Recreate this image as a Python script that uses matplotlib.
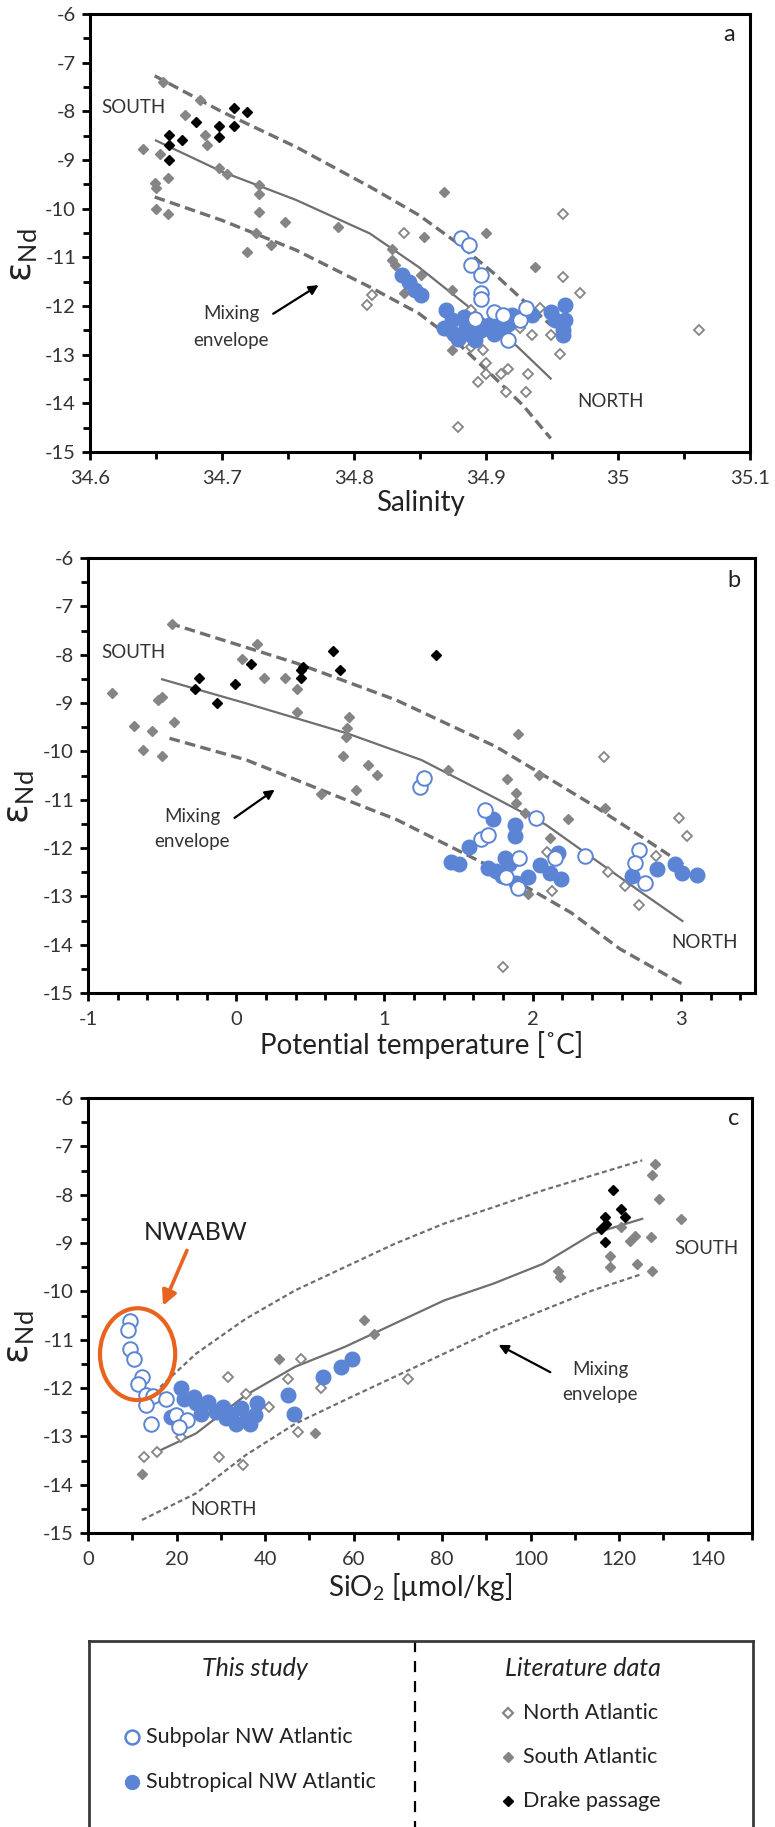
import matplotlib
matplotlib.use("Agg")
import matplotlib.pyplot as plt
import matplotlib.ticker as mtick
from matplotlib.patches import Ellipse

plt.rcParams['font.family'] = ['Lato', 'DejaVu Sans']
plt.rcParams['axes.unicode_minus'] = False
plt.rcParams['mathtext.fontset'] = 'dejavusans'

BLUE = '#5b84d4'
GREY = '#858585'
LINE = '#6f6f6f'
ORANGE = '#e8641e'

# ---------------- panel a: salinity ----------------
a_sub_x = [34.881, 34.887, 34.889, 34.896, 34.896, 34.896, 34.892, 34.906, 34.913, 34.917, 34.926, 34.930]
a_sub_y = [-10.61, -10.75, -11.16, -11.37, -11.74, -11.85, -12.26, -12.12, -12.19, -12.70, -12.29, -12.05]
a_trop_x = [34.836, 34.842, 34.846, 34.851, 34.870, 34.868, 34.874, 34.876, 34.879, 34.883, 34.885, 34.889,
            34.892, 34.896, 34.902, 34.906, 34.909, 34.913, 34.917, 34.920, 34.935, 34.949, 34.952, 34.958,
            34.958, 34.960, 34.960]
a_trop_y = [-11.37, -11.50, -11.67, -11.78, -12.09, -12.46, -12.29, -12.57, -12.67, -12.22, -12.43, -12.60,
            -12.70, -12.50, -12.39, -12.57, -12.29, -12.50, -12.36, -12.19, -12.19, -12.12, -12.29, -12.50,
            -12.60, -11.98, -12.29]
a_north_x = [34.838, 34.810, 34.814, 34.889, 34.889, 34.898, 34.894, 34.900, 34.900, 34.911, 34.917, 34.915,
             34.926, 34.935, 34.932, 34.930, 34.941, 34.949, 34.958, 34.958, 34.971, 34.956, 34.879, 35.061]
a_north_y = [-10.51, -11.98, -11.78, -12.09, -12.84, -12.91, -13.56, -13.18, -13.39, -13.39, -13.29, -13.77,
             -12.46, -12.60, -13.39, -13.77, -12.05, -12.60, -10.10, -11.40, -11.74, -12.98, -14.48, -12.50]
a_south_x = [34.640, 34.649, 34.650, 34.650, 34.655, 34.659, 34.659, 34.653, 34.672, 34.683, 34.687, 34.689,
             34.698, 34.704, 34.728, 34.728, 34.728, 34.726, 34.737, 34.719, 34.748, 34.788, 34.829, 34.829,
             34.831, 34.838, 34.853, 34.851, 34.868, 34.874, 34.900, 34.937, 34.874, 34.917]
a_south_y = [-8.78, -9.47, -9.58, -10.00, -7.39, -9.38, -10.10, -8.88, -8.08, -7.77, -8.49, -8.69,
             -9.17, -9.28, -9.52, -9.69, -10.06, -10.51, -10.75, -10.89, -10.27, -10.37, -10.82, -11.06,
             -11.16, -11.74, -10.58, -11.37, -9.65, -11.67, -10.51, -11.20, -12.91, -12.33]
a_drake_x = [34.660, 34.660, 34.660, 34.670, 34.680, 34.698, 34.698, 34.709, 34.709, 34.719]
a_drake_y = [-8.49, -8.69, -9.00, -8.59, -8.22, -8.30, -8.53, -8.30, -7.93, -8.01]
a_mix_x = [34.650, 34.700, 34.756, 34.812, 34.849, 34.887, 34.924, 34.949]
a_mix_y = [-8.60, -9.24, -9.82, -10.51, -11.20, -12.02, -12.84, -13.49]
a_up_x = [34.649, 34.700, 34.756, 34.812, 34.849, 34.879, 34.906, 34.928, 34.949]
a_up_y = [-7.27, -8.01, -8.73, -9.55, -10.13, -10.72, -11.33, -11.88, -12.39]
a_lo_x = [34.649, 34.700, 34.756, 34.812, 34.849, 34.879, 34.906, 34.928, 34.949]
a_lo_y = [-9.76, -10.24, -10.85, -11.61, -12.15, -12.77, -13.46, -14.04, -14.72]

# ---------------- panel b: potential temperature ----------------
b_sub_x = [1.24, 1.27, 1.68, 1.65, 1.70, 1.91, 1.82, 1.90, 2.02, 2.15, 2.35, 2.72, 2.69, 2.76]
b_sub_y = [-10.73, -10.55, -11.21, -11.82, -11.74, -12.20, -12.61, -12.82, -11.38, -12.20, -12.17, -12.05, -12.30, -12.72]
b_trop_x = [1.45, 1.50, 1.57, 1.73, 1.88, 1.88, 1.70, 1.75, 1.81, 1.84, 1.79, 1.89, 1.97, 2.05, 2.12, 2.17,
            2.19, 2.67, 2.84, 2.96, 3.01, 3.11]
b_trop_y = [-12.29, -12.34, -11.98, -11.39, -11.52, -11.76, -12.41, -12.48, -12.20, -12.34, -12.58, -12.72,
            -12.61, -12.36, -12.51, -12.10, -12.65, -12.58, -12.44, -12.34, -12.51, -12.55]
b_north_x = [2.48, 2.51, 2.62, 2.72, 2.83, 2.99, 3.04, 2.10, 2.13, 1.80, 1.90]
b_north_y = [-10.11, -12.50, -12.79, -13.18, -12.17, -11.38, -11.76, -12.09, -12.89, -14.47, -12.27]
b_south_x = [-0.84, -0.69, -0.57, -0.63, -0.50, -0.53, -0.50, -0.42, 0.04, 0.14, 0.19, 0.33, 0.41, 0.41,
             -0.43, 0.76, 0.75, 0.74, 0.72, 0.89, 0.95, 0.81, 0.57, 1.43, 1.90, 1.83, 1.89, 1.89, 1.95,
             2.04, 2.12, 2.24, 2.49, 1.97]
b_south_y = [-8.79, -9.48, -9.57, -9.97, -10.09, -8.93, -8.87, -9.39, -8.08, -7.77, -8.49, -8.49, -8.70, -9.18,
             -7.36, -9.28, -9.52, -9.70, -10.09, -10.28, -10.48, -10.79, -10.88, -10.38, -9.64, -10.57, -10.86,
             -11.07, -11.27, -10.48, -11.79, -11.40, -11.17, -12.96]
b_drake_x = [-0.28, -0.25, -0.13, -0.01, 0.10, 0.44, 0.44, 0.45, 0.65, 0.70, 1.35]
b_drake_y = [-8.70, -8.49, -9.01, -8.60, -8.20, -8.32, -8.49, -8.25, -7.92, -8.31, -8.00]
b_mix_x = [-0.50, 0.07, 0.75, 1.25, 1.75, 2.09, 2.42, 2.72, 3.01]
b_mix_y = [-8.51, -9.01, -9.63, -10.18, -10.97, -11.52, -12.24, -12.89, -13.51]
b_up_x = [-0.45, 0.41, 1.08, 1.75, 2.05, 2.42, 2.76, 3.03]
b_up_y = [-7.35, -8.18, -8.94, -9.90, -10.45, -11.14, -11.82, -12.37]
b_lo_x = [-0.45, 0.07, 0.68, 1.08, 1.75, 2.26, 2.59, 3.03]
b_lo_y = [-9.73, -10.18, -10.93, -11.41, -12.44, -13.34, -14.09, -14.85]

# ---------------- panel c: silicate ----------------
c_sub_x = [9.6, 9.0, 9.6, 10.4, 12.1, 11.3, 13.2, 14.6, 17.7, 13.0, 14.3, 19.9, 22.4, 20.5]
c_sub_y = [-10.61, -10.79, -11.19, -11.39, -11.77, -11.91, -12.15, -12.17, -12.22, -12.36, -12.74, -12.56, -12.67, -12.80]
c_trop_x = [21.1, 21.6, 23.9, 18.8, 25.5, 27.2, 28.9, 30.6, 31.1, 32.3, 33.4, 34.5, 35.6, 36.7, 38.1, 37.8,
            45.1, 46.6, 53.0, 57.1, 59.7, 24.4]
c_trop_y = [-12.01, -12.22, -12.18, -12.60, -12.53, -12.29, -12.49, -12.39, -12.63, -12.53, -12.74, -12.42,
            -12.67, -12.74, -12.32, -12.56, -12.15, -12.53, -11.77, -11.56, -11.39, -12.32]
c_north_x = [12.7, 15.5, 21.1, 29.5, 31.7, 35.1, 35.6, 41.0, 45.1, 47.4, 48.2, 52.6, 72.3]
c_north_y = [-13.42, -13.32, -13.01, -13.42, -11.77, -13.60, -12.12, -12.39, -11.81, -12.91, -11.39, -12.01, -11.81]
c_south_x = [12.3, 43.2, 51.3, 62.3, 64.5, 106.2, 106.7, 117.9, 117.9, 120.5, 122.4, 123.5, 124.1, 127.2,
             127.4, 128.0, 129.1, 127.4, 133.9]
c_south_y = [-13.77, -11.39, -12.94, -10.60, -10.88, -9.57, -9.71, -9.26, -9.50, -8.67, -8.95, -8.85, -9.43,
             -8.88, -7.60, -7.36, -8.09, -9.57, -8.50]
c_drake_x = [118.5, 120.5, 121.3, 116.8, 117.1, 116.0, 116.8]
c_drake_y = [-7.91, -8.29, -8.47, -8.47, -8.60, -8.71, -8.98]
c_mix_x = [15.6, 24.4, 35.6, 46.8, 58.0, 69.2, 80.4, 91.6, 102.8, 114.0, 125.2]
c_mix_y = [-13.32, -12.94, -12.15, -11.56, -11.15, -10.67, -10.19, -9.84, -9.43, -8.81, -8.50]
c_up_x = [16.3, 24.4, 35.6, 46.8, 58.0, 69.2, 80.4, 91.6, 102.8, 114.0, 125.2]
c_up_y = [-11.98, -11.29, -10.57, -9.98, -9.50, -9.02, -8.60, -8.26, -7.91, -7.60, -7.29]
c_lo_x = [12.2, 24.4, 35.6, 46.8, 58.0, 69.2, 80.4, 91.6, 102.8, 114.0, 125.2]
c_lo_y = [-14.73, -14.18, -13.39, -12.74, -12.25, -11.77, -11.29, -10.81, -10.39, -9.98, -9.64]

W, H = 775, 1827
fig = plt.figure(figsize=(W / 100, H / 100), dpi=100)


def px_axes(left, top, right, bottom):
    return fig.add_axes([left / W, 1 - bottom / H, (right - left) / W, (bottom - top) / H])


def draw_points(ax, d):
    ax.plot(d['north'][0], d['north'][1], 'D', ms=5.4, mfc='white', mec=GREY, mew=1.3, ls='none', zorder=3)
    ax.plot(d['south'][0], d['south'][1], 'D', ms=5.4, mfc=GREY, mec=GREY, ls='none', zorder=3)
    ax.plot(d['drake'][0], d['drake'][1], 'D', ms=5.4, mfc='black', mec='black', ls='none', zorder=5)
    ax.plot(d['trop'][0], d['trop'][1], 'o', ms=10.5, mfc=BLUE, mec=BLUE, ls='none', zorder=4)
    ax.plot(d['sub'][0], d['sub'][1], 'o', ms=10.5, mfc='white', mec=BLUE, mew=1.4, ls='none', zorder=4)


def style_axes(ax, xlim, xmaj, xmin, xlabel, fmt):
    ax.set_xlim(*xlim)
    ax.set_ylim(-15, -6)
    ax.xaxis.set_major_locator(mtick.MultipleLocator(xmaj))
    ax.xaxis.set_minor_locator(mtick.MultipleLocator(xmin))
    ax.yaxis.set_major_locator(mtick.MultipleLocator(1))
    ax.yaxis.set_minor_locator(mtick.MultipleLocator(0.5))
    ax.xaxis.set_major_formatter(mtick.FuncFormatter(fmt))
    ax.yaxis.set_major_formatter(mtick.FuncFormatter(lambda v, p: '%g' % v))
    ax.tick_params(which='both', direction='out', width=2, color='black', labelsize=14.5, labelcolor='#333333')
    ax.tick_params(which='major', length=6)
    ax.tick_params(which='minor', length=5)
    ax.tick_params(axis='x', which='major', pad=7)
    ax.tick_params(axis='y', which='major', pad=4)
    for s in ax.spines.values():
        s.set_linewidth(2.2)
        s.set_color('black')
    ax.set_xlabel(xlabel, fontsize=20, color='#222222', labelpad=2)
    # upright epsilon with Nd subscript
    ax.set_ylabel(r'$\mathrm{\varepsilon}_{\mathregular{Nd}}$', fontsize=26, color='#222222', rotation=90)
    ax.yaxis.set_label_coords(-0.078, 0.45)


def envelope(ax, mx, my, ux, uy, lx, ly, thin=False):
    ax.plot(mx, my, color=LINE, lw=1.6, zorder=2)
    if thin:
        ax.plot(ux, uy, color=LINE, lw=1.6, dashes=(2.2, 1.4), zorder=2)
        ax.plot(lx, ly, color=LINE, lw=1.6, dashes=(2.2, 1.4), zorder=2)
    else:
        ax.plot(ux, uy, color=LINE, lw=2.4, dashes=(3.2, 1.6), zorder=2)
        ax.plot(lx, ly, color=LINE, lw=2.4, dashes=(3.2, 1.6), zorder=2)


txt = dict(fontsize=13.5, color='#333333', ha='center', va='center')
letter = dict(fontsize=17, color='#222222', ha='center', va='center')
arrow = dict(arrowstyle='-|>', color='black', lw=1.6, mutation_scale=14)

# panel a
ax1 = px_axes(90, 14, 750, 452)
envelope(ax1, a_mix_x, a_mix_y, a_up_x, a_up_y, a_lo_x, a_lo_y)
draw_points(ax1, {'north': (a_north_x, a_north_y), 'south': (a_south_x, a_south_y),
                  'drake': (a_drake_x, a_drake_y), 'trop': (a_trop_x, a_trop_y), 'sub': (a_sub_x, a_sub_y)})
style_axes(ax1, (34.6, 35.1), 0.1, 0.05, 'Salinity', lambda v, p: '%g' % round(v, 2))
ax1.text(34.633, -7.93, 'SOUTH', **txt)
ax1.text(34.994, -13.97, 'NORTH', **txt)
ax1.text(35.084, -6.43, 'a', **letter)
ax1.text(34.707, -12.15, 'Mixing', **txt)
ax1.text(34.707, -12.70, 'envelope', **txt)
ax1.annotate('', xy=(34.775, -11.54), xytext=(34.737, -12.19), arrowprops=arrow)

# panel b
ax2 = px_axes(88, 558, 755, 993)
envelope(ax2, b_mix_x, b_mix_y, b_up_x, b_up_y, b_lo_x, b_lo_y)
draw_points(ax2, {'north': (b_north_x, b_north_y), 'south': (b_south_x, b_south_y),
                  'drake': (b_drake_x, b_drake_y), 'trop': (b_trop_x, b_trop_y), 'sub': (b_sub_x, b_sub_y)})
style_axes(ax2, (-1, 3.5), 1, 0.2, 'Potential temperature [˚C]', lambda v, p: '%g' % v)
ax2.text(-0.69, -7.96, 'SOUTH', **txt)
ax2.text(3.16, -13.95, 'NORTH', **txt)
ax2.text(3.36, -6.47, 'b', **letter)
ax2.text(-0.295, -11.34, 'Mixing', **txt)
ax2.text(-0.295, -11.86, 'envelope', **txt)
ax2.annotate('', xy=(0.275, -10.76), xytext=(-0.027, -11.41), arrowprops=arrow)

# panel c
ax3 = px_axes(88, 1098, 752, 1533)
envelope(ax3, c_mix_x, c_mix_y, c_up_x, c_up_y, c_lo_x, c_lo_y, thin=True)
draw_points(ax3, {'north': (c_north_x, c_north_y), 'south': (c_south_x, c_south_y),
                  'drake': (c_drake_x, c_drake_y), 'trop': (c_trop_x, c_trop_y), 'sub': (c_sub_x, c_sub_y)})
style_axes(ax3, (0, 150), 20, 10, r'SiO$\mathregular{_2}$ [µmol/kg]', lambda v, p: '%g' % v)
ax3.text(139.8, -9.12, 'SOUTH', **txt)
ax3.text(30.5, -14.52, 'NORTH', **txt)
ax3.text(145.9, -6.43, 'c', **letter)
ax3.text(115.7, -11.62, 'Mixing', **txt)
ax3.text(115.7, -12.14, 'envelope', **txt)
ax3.annotate('', xy=(92.2, -11.08), xytext=(105.0, -11.70), arrowprops=arrow)
ax3.text(24.4, -8.78, 'NWABW', fontsize=18, color='#222222', ha='center', va='center')
ax3.add_patch(Ellipse((11.2, -11.3), 17.0, 1.9, fill=False, ec=ORANGE, lw=3, zorder=6))
ax3.annotate('', xy=(16.7, -10.35), xytext=(22.6, -9.10),
             arrowprops=dict(arrowstyle='-|>', color=ORANGE, lw=2.6, mutation_scale=22))

# legend box (pixel coordinates)
leg = px_axes(89, 1641, 753, H)
leg.set_xlim(89, 753)
leg.set_ylim(H, 1641)
leg.set_xticks([])
leg.set_yticks([])
leg.spines['bottom'].set_visible(False)
for s in ['top', 'left', 'right']:
    leg.spines[s].set_linewidth(2)
    leg.spines[s].set_color('#3a3a3a')
leg.plot([415, 415], [1641, H], color='black', lw=1.6, dashes=(5, 4))
leg.text(255, 1669, 'This study', fontsize=18, style='italic', color='#222222', ha='center', va='center')
leg.text(583, 1669, 'Literature data', fontsize=18, style='italic', color='#222222', ha='center', va='center')
leg.plot([132], [1737], 'o', ms=10, mfc='white', mec=BLUE, mew=1.8)
leg.plot([132], [1782], 'o', ms=10, mfc=BLUE, mec=BLUE)
leg.plot([508], [1713], 'D', ms=5.5, mfc='white', mec=GREY, mew=1.6)
leg.plot([508], [1757], 'D', ms=5, mfc=GREY, mec=GREY)
leg.plot([508], [1801], 'D', ms=5, mfc='black', mec='black')
item = dict(fontsize=15.5, color='#222222', ha='left', va='center')
leg.text(146, 1737, 'Subpolar NW Atlantic', **item)
leg.text(146, 1782, 'Subtropical NW Atlantic', **item)
leg.text(523, 1713, 'North Atlantic', **item)
leg.text(523, 1757, 'South Atlantic', **item)
leg.text(523, 1801, 'Drake passage', **item)

fig.savefig('out.png', dpi=100)
